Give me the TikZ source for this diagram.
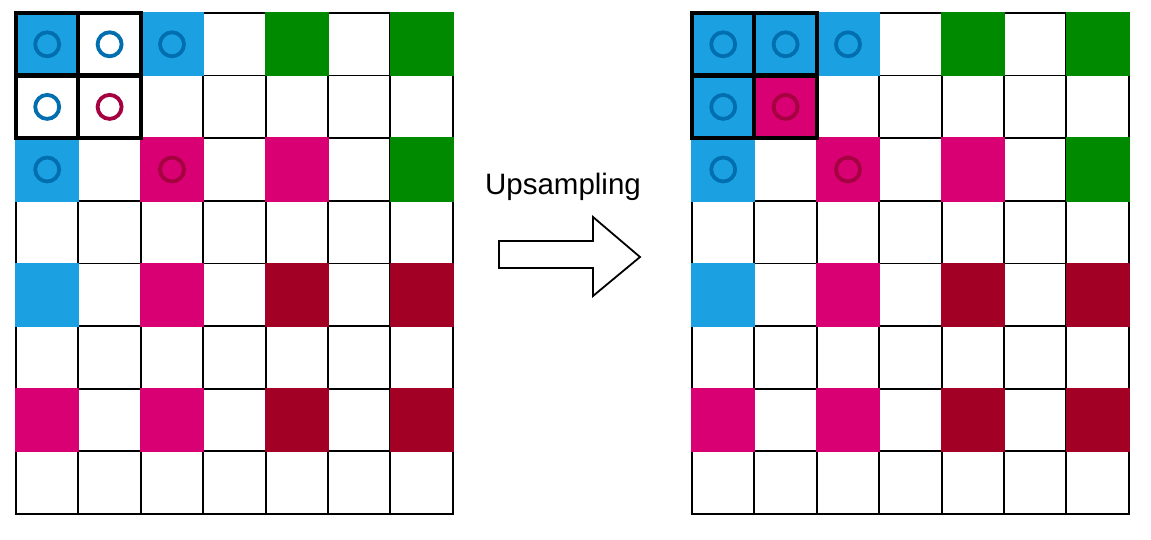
\documentclass[tikz,border=0pt]{standalone}
\usepackage{fontspec}
\setmainfont{Liberation Sans}
\definecolor{cblue}{HTML}{1BA1E2}
\definecolor{sblue}{HTML}{006EAF}
\definecolor{cmag}{HTML}{D80073}
\definecolor{smag}{HTML}{A50040}
\definecolor{cgreen}{HTML}{008A00}
\definecolor{sgreen}{HTML}{005700}
\definecolor{cred}{HTML}{A20025}
\definecolor{sred}{HTML}{6F0000}
\tikzset{
  cell/.style={draw=black, line width=1.8pt, fill=white, minimum width=62.3pt, minimum height=62.6pt, inner sep=0pt, outer sep=0pt},
  bl/.style={cell, fill=cblue, draw=cblue},
  mg/.style={cell, fill=cmag, draw=cmag},
  gr/.style={cell, fill=cgreen, draw=cgreen},
  rd/.style={cell, fill=cred, draw=cred},
  ring/.style={draw=#1, line width=3.8pt, circle, minimum size=24pt, inner sep=0pt},
  thick box/.style={draw=black, line width=4.2pt},
}
\begin{document}
\begin{tikzpicture}[x=1pt,y=-1pt]
\useasboundingbox (0,0) rectangle (1151,540);
% ---------- generic grids ----------
\foreach \g/\xo in {L/16, R/692}{
  \foreach \r in {1,...,8}{
    \foreach \c in {1,...,7}{
      \node[cell] (\g-\r-\c) at ({\xo+(\c-0.5)*62.4},{13+(\r-0.5)*62.6}) {};
    }
  }
}
% ---------- coloured cells (both grids) ----------
\foreach \g in {L,R}{
  \node[bl] at (\g-1-1) {};
  \node[bl] at (\g-1-3) {};
  \node[gr] at (\g-1-5) {};
  \node[gr] at (\g-1-7) {};
  \node[bl] at (\g-3-1) {};
  \node[mg] at (\g-3-3) {};
  \node[mg] at (\g-3-5) {};
  \node[gr] at (\g-3-7) {};
  \node[bl] at (\g-5-1) {};
  \node[mg] at (\g-5-3) {};
  \node[rd] at (\g-5-5) {};
  \node[rd] at (\g-5-7) {};
  \node[mg] at (\g-7-1) {};
  \node[mg] at (\g-7-3) {};
  \node[rd] at (\g-7-5) {};
  \node[rd] at (\g-7-7) {};
}
\node[bl] at (R-1-2) {};
\node[bl] at (R-2-1) {};
\node[mg] at (R-2-2) {};
% ---------- rings ----------
\foreach \g in {L,R}{
  \node[ring=sblue] at (\g-1-1) {};
  \node[ring=sblue] at (\g-1-2) {};
  \node[ring=sblue] at (\g-1-3) {};
  \node[ring=sblue] at (\g-2-1) {};
  \node[ring=smag] at (\g-2-2) {};
  \node[ring=sblue] at (\g-3-1) {};
  \node[ring=smag] at (\g-3-3) {};
}
% ---------- thick 2x2 boxes ----------
\foreach \g in {L,R}{
  \draw[thick box] (\g-1-1.north west) rectangle (\g-2-2.south east);
  \draw[thick box] (\g-1-1.north east) -- (\g-2-1.south east);
  \draw[thick box] (\g-1-1.south west) -- (\g-1-2.south east);
}
% ---------- arrow and label ----------
\draw[line width=1.8pt, fill=white, line join=miter]
  (499,241) -- (593,241) -- (593,217) -- (640,257) -- (593,296) -- (593,268) -- (499,268) -- cycle;
\node[font=\fontsize{29.5}{34}\selectfont, anchor=base] (lbl) at (563,195) {Upsampling};
\end{tikzpicture}
\end{document}
